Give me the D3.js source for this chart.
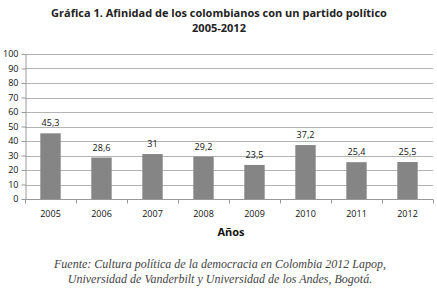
<!DOCTYPE html>
<html>
<head>
<meta charset="utf-8">
<script src="https://cdn.jsdelivr.net/npm/d3@7"></script>
<style>
  body { margin: 0; background: #fff; }
  svg { display: block; }
</style>
</head>
<body>
<div id="chart"></div>
<script>
// chart data
const years = ["2005", "2006", "2007", "2008", "2009", "2010", "2011", "2012"];
const afinidad = [45.3, 28.6, 31, 29.2, 23.5, 37.2, 25.4, 25.5];
const yTicks = [0, 10, 20, 30, 40, 50, 60, 70, 80, 90, 100];
const titleLines = ["Gráfica 1. Afinidad de los colombianos con un partido político", "2005-2012"];
const sourceLines = ["Fuente: Cultura política de la democracia en Colombia 2012 Lapop,",
                     "Universidad de Vanderbilt y Universidad de los Andes, Bogotá."];

const width = 437, height = 292;
const margin = { top: 54, bottom: 93, left: 25, right: 4 };
const innerWidth = width - margin.left - margin.right;
const innerHeight = height - margin.top - margin.bottom;

const svg = d3.select("#chart").append("svg")
    .attr("width", width)
    .attr("height", height);

// title
svg.append("text")
    .attr("text-anchor", "middle")
    .style("font-family", "'Open Sans', sans-serif")
    .style("font-size", "11px")
    .style("font-weight", "bold")
    .attr("fill", "#222")
    .selectAll("tspan")
    .data(titleLines)
    .join("tspan")
    .attr("x", 219)
    .attr("y", (d, i) => 17 + i * 15)
    .text(d => d);

const g = svg.append("g")
    .attr("transform", `translate(${margin.left},${margin.top})`);

const x = d3.scaleBand()
    .domain(years)
    .range([0, innerWidth])
    .paddingInner(0.6)
    .paddingOuter(0.3);

const y = d3.scaleLinear()
    .domain([0, 100])
    .range([innerHeight, 0]);

// gridlines
g.append("g")
    .selectAll("line")
    .data(yTicks.filter(t => t > 0))
    .join("line")
    .attr("x1", 0)
    .attr("x2", innerWidth)
    .attr("y1", d => Math.round(y(d)) + 0.5)
    .attr("y2", d => Math.round(y(d)) + 0.5)
    .attr("stroke", "#b3b3b3")
    .attr("stroke-width", 1);

// y axis
const yAxis = g.append("g")
    .attr("transform", "translate(0.5,0)")
    .call(d3.axisLeft(y).tickValues(yTicks).tickSize(4).tickSizeOuter(0));
yAxis.select(".domain").attr("stroke", "#999");
yAxis.selectAll(".tick line").attr("stroke", "#999");
yAxis.selectAll(".tick text")
    .attr("x", -7)
    .attr("fill", "#111")
    .style("font-family", "'Open Sans', sans-serif")
    .style("font-size", "9px");

// x axis: ticks between categories
const xAxis = g.append("g")
    .attr("transform", `translate(0,${Math.round(innerHeight) + 0.5})`);
xAxis.append("line")
    .attr("x1", 0).attr("x2", innerWidth)
    .attr("stroke", "#999");
xAxis.selectAll(".sep")
    .data(d3.range(years.length + 1))
    .join("line")
    .attr("class", "sep")
    .attr("x1", i => Math.round(i * innerWidth / years.length) + 0.5)
    .attr("x2", i => Math.round(i * innerWidth / years.length) + 0.5)
    .attr("y1", 0).attr("y2", 4)
    .attr("stroke", "#999");
xAxis.selectAll(".lab")
    .data(years)
    .join("text")
    .attr("class", "lab")
    .attr("x", d => x(d) + x.bandwidth() / 2)
    .attr("y", 17)
    .attr("text-anchor", "middle")
    .attr("fill", "#111")
    .style("font-family", "'Open Sans', sans-serif")
    .style("font-size", "9px")
    .text(d => d);

// bars
const rows = years.map((yr, i) => ({ year: yr, value: afinidad[i] }));
g.selectAll("rect.bar")
    .data(rows)
    .join("rect")
    .attr("class", "bar")
    .attr("x", d => x(d.year))
    .attr("y", d => y(d.value))
    .attr("width", x.bandwidth())
    .attr("height", d => innerHeight - y(d.value))
    .attr("fill", "#858585");

// data labels
g.selectAll("text.val")
    .data(rows)
    .join("text")
    .attr("class", "val")
    .attr("x", d => x(d.year) + x.bandwidth() / 2)
    .attr("y", d => y(d.value) - 7)
    .attr("text-anchor", "middle")
    .attr("fill", "#111")
    .style("font-family", "'Open Sans', sans-serif")
    .style("font-size", "9px")
    .text(d => String(d.value).replace(".", ","));

// x label
svg.append("text")
    .attr("x", 231)
    .attr("y", 236)
    .attr("text-anchor", "middle")
    .attr("fill", "#111")
    .style("font-family", "'Open Sans', sans-serif")
    .style("font-size", "11px")
    .style("font-weight", "bold")
    .text("Años");

// source note
svg.append("text")
    .attr("text-anchor", "middle")
    .style("font-family", "'Liberation Serif', serif")
    .style("font-style", "italic")
    .style("font-size", "12px")
    .attr("fill", "#444")
    .selectAll("tspan")
    .data(sourceLines)
    .join("tspan")
    .attr("x", 220)
    .attr("y", (d, i) => 268 + i * 15)
    .text(d => d);
</script>
</body>
</html>
